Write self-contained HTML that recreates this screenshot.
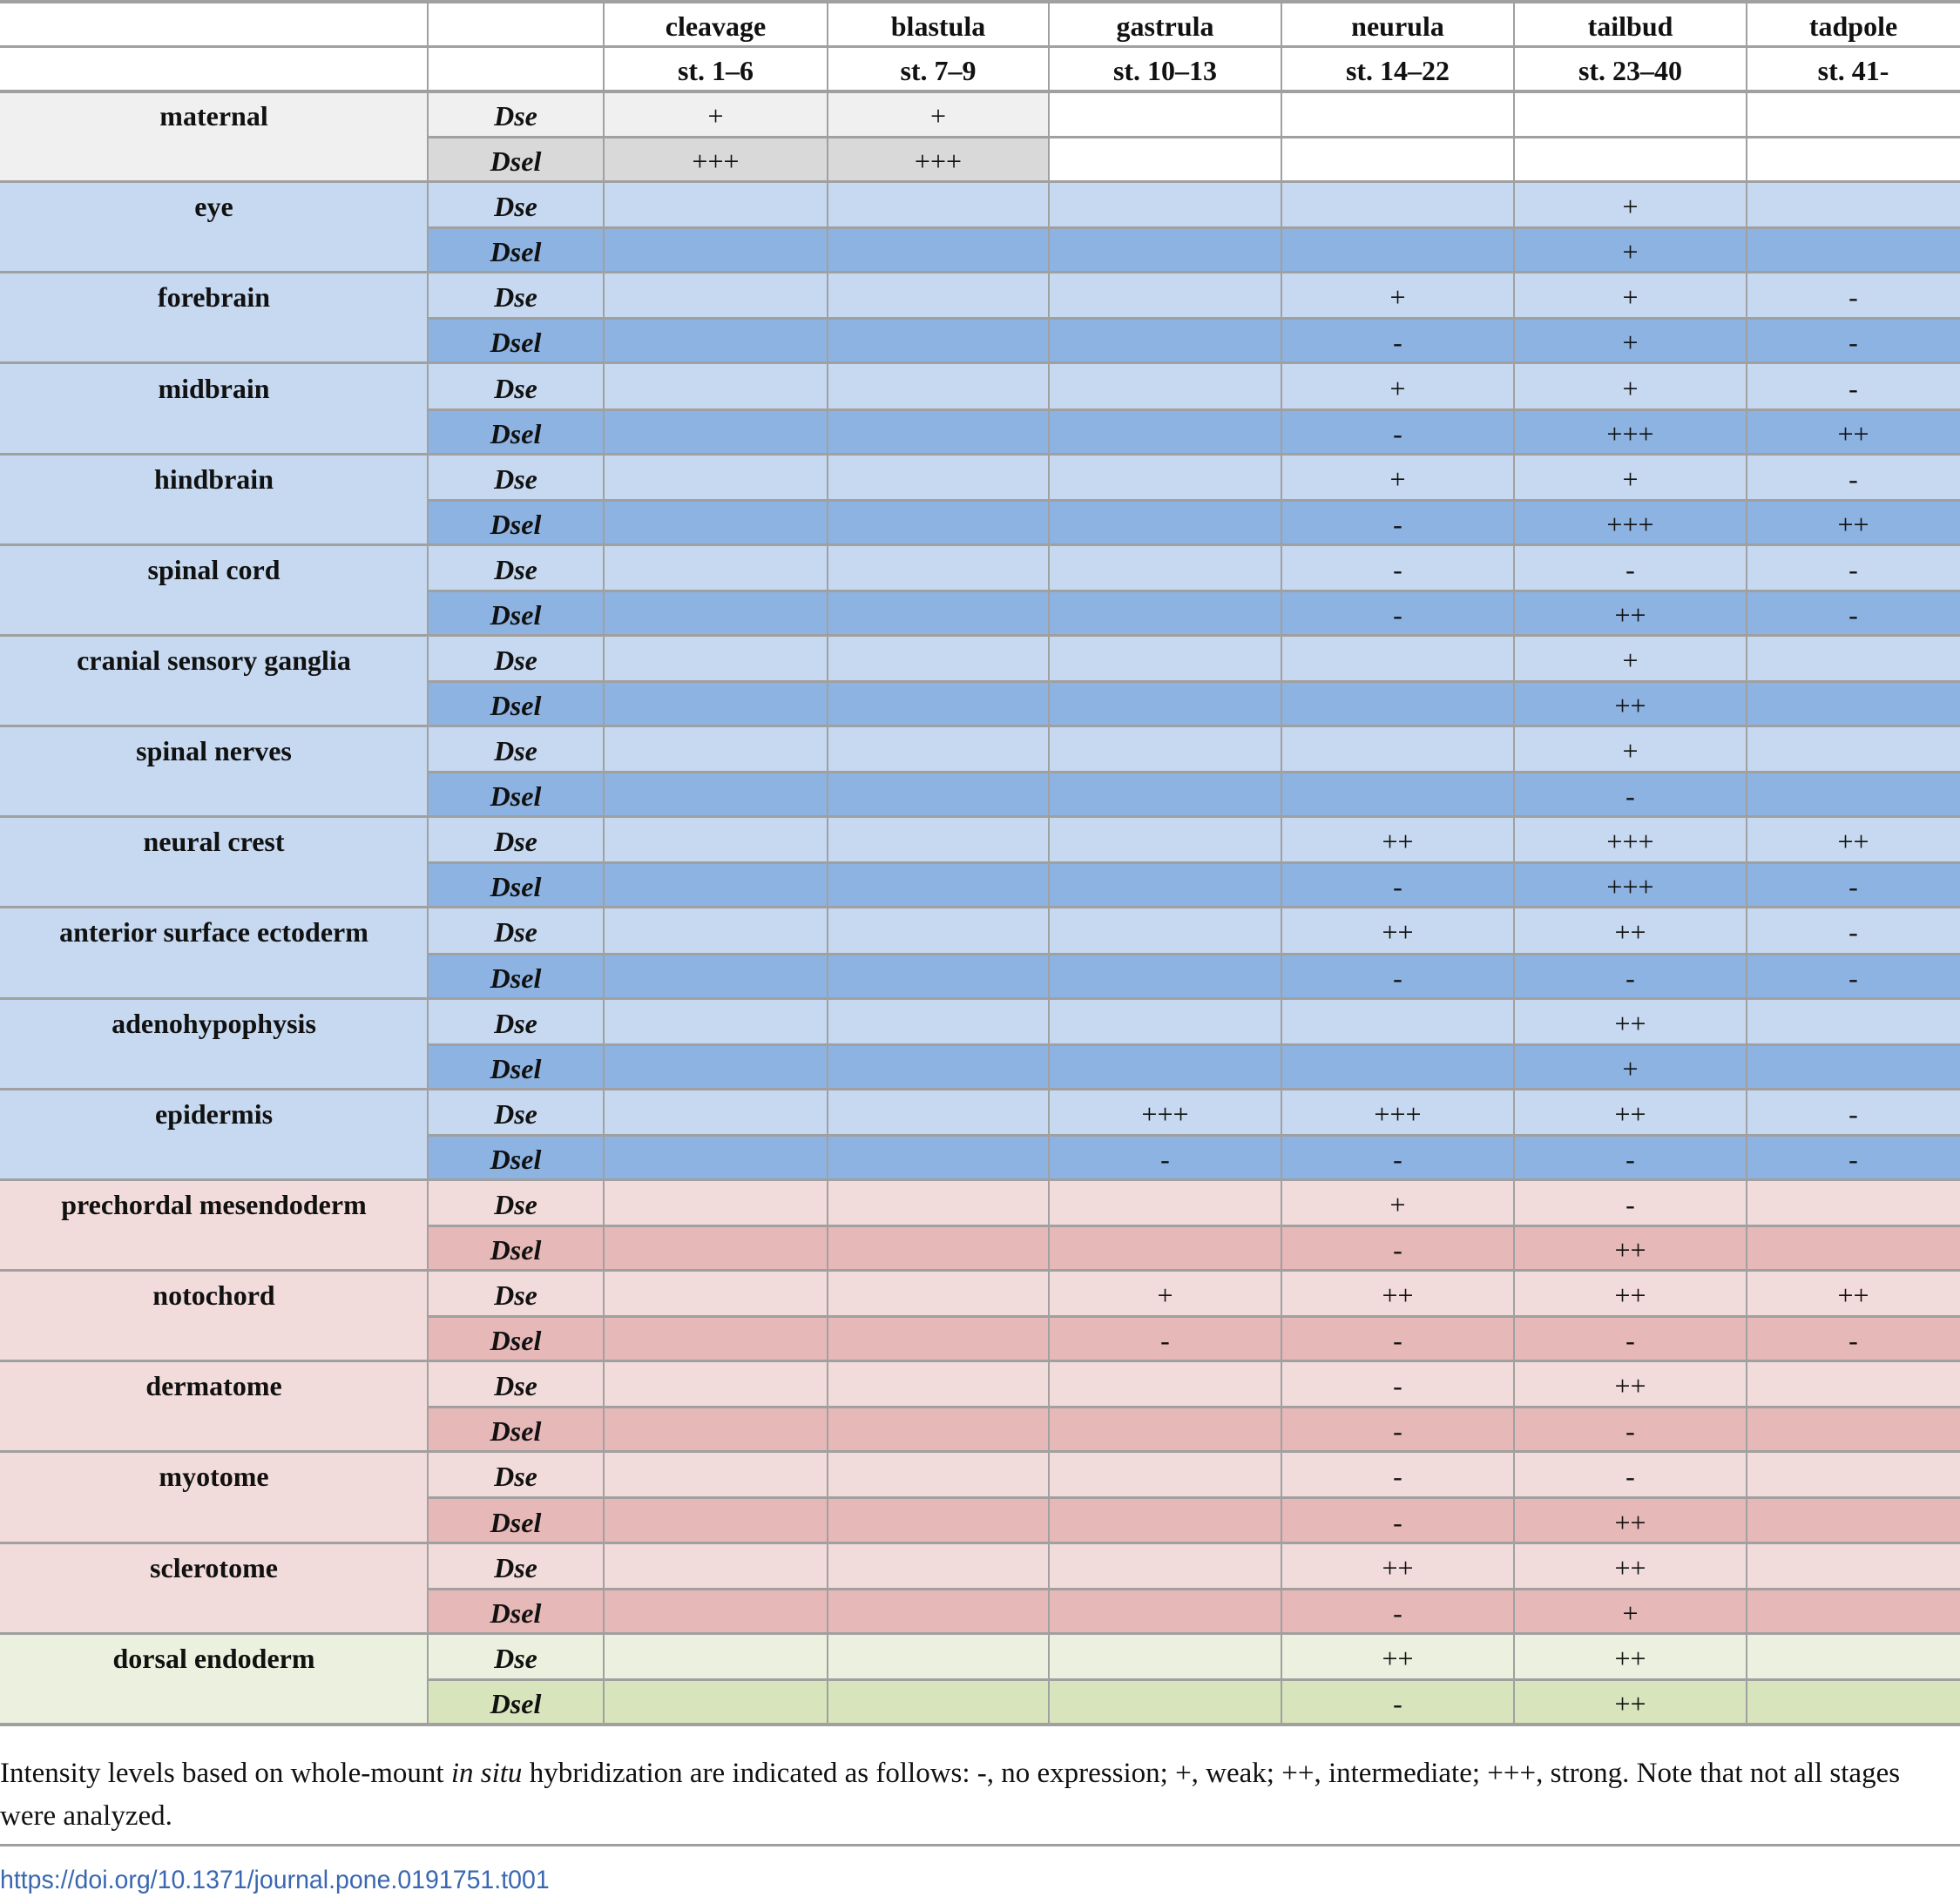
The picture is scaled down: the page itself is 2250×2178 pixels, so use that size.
<!DOCTYPE html>
<html><head><meta charset="utf-8"><style>
html,body{margin:0;padding:0;background:#fff}
body{width:2250px;height:2178px;position:relative;overflow:hidden;font-family:"Liberation Serif",serif;color:#111}
.c{position:absolute;box-sizing:border-box;display:flex;align-items:center;justify-content:center;font-size:32px;padding-top:5px}
.b{font-weight:bold}
.i{font-style:italic;font-weight:bold}
.hl{position:absolute;background:#a0a0a0}
</style></head><body>
<div id="tbl"></div>
<div style="position:absolute;left:0;top:2012px;width:2240px;font-size:33px;line-height:49px">Intensity levels based on whole-mount <i>in situ</i> hybridization are indicated as follows: -, no expression; +, weak; ++, intermediate; +++, strong. Note that not all stages were analyzed.</div>
<div class="hl" style="left:0;top:2117px;width:2250px;height:3px"></div>
<div style="position:absolute;left:0;top:2142px;font-family:'Liberation Sans',sans-serif;font-size:30px;color:#3a67b0;transform:scaleX(0.95);transform-origin:left top;white-space:nowrap">https://doi.org/10.1371/journal.pone.0191751.t001</div>
<script>
const stages = ["cleavage","blastula","gastrula","neurula","tailbud","tadpole"];
const stageRanges = ["st. 1–6","st. 7–9","st. 10–13","st. 14–22","st. 23–40","st. 41-"];
const tissues = ["maternal","eye","forebrain","midbrain","hindbrain","spinal cord","cranial sensory ganglia","spinal nerves","neural crest","anterior surface ectoderm","adenohypophysis","epidermis","prechordal mesendoderm","notochord","dermatome","myotome","sclerotome","dorsal endoderm"];
const tissueGroups = ["g","b","b","b","b","b","b","b","b","b","b","b","r","r","r","r","r","e"];
const dseValues = [
["+","+","","","",""],["","","","","+",""],["","","","+","+","-"],["","","","+","+","-"],["","","","+","+","-"],
["","","","-","-","-"],["","","","","+",""],["","","","","+",""],["","","","++","+++","++"],["","","","++","++","-"],
["","","","","++",""],["","","+++","+++","++","-"],["","","","+","-",""],["","","+","++","++","++"],["","","","-","++",""],
["","","","-","-",""],["","","","++","++",""],["","","","++","++",""]];
const dselValues = [
["+++","+++","","","",""],["","","","","+",""],["","","","-","+","-"],["","","","-","+++","++"],["","","","-","+++","++"],
["","","","-","++","-"],["","","","","++",""],["","","","","-",""],["","","","-","+++","-"],["","","","-","-","-"],
["","","","","+",""],["","","-","-","-","-"],["","","","-","++",""],["","","-","-","-","-"],["","","","-","-",""],
["","","","-","++",""],["","","","-","+",""],["","","","-","++",""]];

const colX=[0,491,693,950,1204,1471,1738,2005,2250];
const headTop=2, head1=53, dataTop=105, rowH=52.08;
const pal={g:["#f0f0f0","#d9d9d9"],b:["#c6d9f0","#8db3e2"],r:["#f2dcdb","#e6b8b7"],e:["#ebf1de","#d8e4bc"]};
const T=document.getElementById('tbl');
function cell(x,y,w,h,txt,cls,bg,name){
  const d=document.createElement('div');
  d.className='c '+(cls||'');
  d.style.cssText+=`left:${x}px;top:${y}px;width:${w}px;height:${h}px;background:${bg||'transparent'}`;
  d.textContent=txt;
  
  
  T.appendChild(d);return d;
}
function line(x,y,w,h,name){
  const d=document.createElement('div');d.className='hl';
  d.style.cssText+=`left:${x}px;top:${y}px;width:${w}px;height:${h}px`;
  
  
  T.appendChild(d);
}
stages.forEach((s,i)=>{
  cell(colX[i+2],headTop,colX[i+3]-colX[i+2],head1-headTop,s,'b','#fff','stage-header');
  cell(colX[i+2],head1,colX[i+3]-colX[i+2],dataTop-head1,stageRanges[i],'b','#fff','stage-range-header');
});
tissues.forEach((t,k)=>{
  const y0=dataTop+k*2*rowH, p=pal[tissueGroups[k]];
  cell(0,y0,colX[1],2*rowH,'', '',p[0],'tissue-cell');
  cell(0,y0,colX[1],rowH,t,'b','transparent','tissue-label');
  [dseValues[k],dselValues[k]].forEach((vals,r)=>{
    const y=y0+r*rowH;
    cell(colX[1],y,colX[2]-colX[1],rowH,r?'Dsel':'Dse','i',p[r],'gene-label');
    vals.forEach((v,j)=>{
      let bg=p[r];
      if(tissueGroups[k]==='g' && j>=2) bg='#fff';
      cell(colX[j+2],y,colX[j+3]-colX[j+2],rowH,v,'',bg,'expression-cell');
    });
  });
});
line(0,0,2250,4,'top-rule');
line(0,head1-1,2250,3,'header-rule');
line(0,dataTop-2,2250,4,'header-bottom-rule');
for(let k=0;k<tissues.length;k++){
  const y0=dataTop+k*2*rowH;
  if(k>0) line(0,Math.round(y0)-2,2250,3,'group-rule');
  line(colX[1],Math.round(y0+rowH)-1,2250-colX[1],3,'row-rule');
}
line(0,Math.round(dataTop+36*rowH)-2,2250,4,'bottom-rule');
for(let i=1;i<8;i++) line(colX[i]-1,0,2,Math.round(dataTop+36*rowH),'column-rule');
</script>
</body></html>
